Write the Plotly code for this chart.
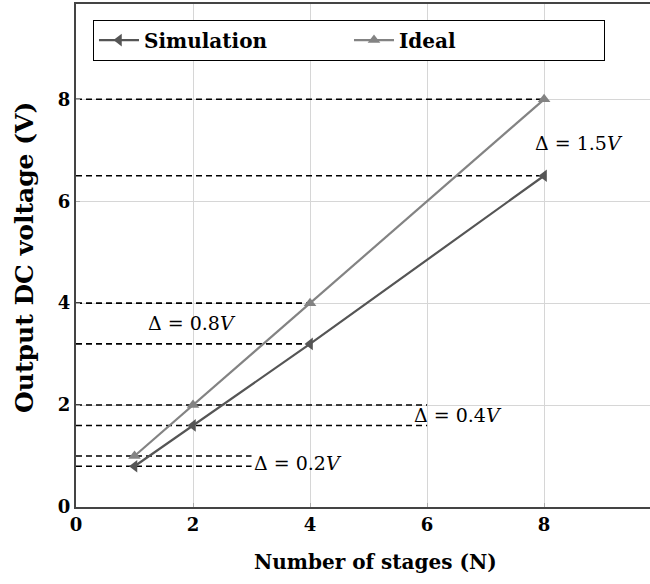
import plotly.graph_objects as go

stages = [1, 2, 4, 8]
simulation = [0.8, 1.6, 3.2, 6.5]
ideal = [1.0, 2.0, 4.0, 8.0]

# reference dashed levels: (y value, x extent)
ref_levels = [8.0, 6.5, 4.0, 3.2, 2.0, 1.6, 1.0, 0.8]
ref_extent = [8, 8, 4, 4, 6, 6, 3, 3]

delta_labels = ["Δ = 1.5<i>V</i>", "Δ = 0.8<i>V</i>", "Δ = 0.4<i>V</i>", "Δ = 0.2<i>V</i>"]
delta_x = [8.6, 1.98, 6.53, 3.8]
delta_y = [7.15, 3.61, 1.81, 0.86]

x_ticks = [0, 2, 4, 6, 8]
y_ticks = [0, 2, 4, 6, 8]

FONT = "DejaVu Serif"

fig = go.Figure()

for yv, xe in zip(ref_levels, ref_extent):
    fig.add_trace(go.Scatter(
        x=[0, xe], y=[yv, yv], mode="lines",
        line=dict(color="black", width=1.6, dash="6px,4px"),
        showlegend=False, hoverinfo="skip"))

fig.add_trace(go.Scatter(
    x=stages, y=simulation, mode="lines+markers", name="<b>Simulation</b>",
    line=dict(color="#555555", width=2.2),
    marker=dict(symbol="triangle-left", size=11, color="#555555")))
fig.add_trace(go.Scatter(
    x=stages, y=ideal, mode="lines+markers", name="<b>Ideal</b>",
    line=dict(color="#838383", width=2.2),
    marker=dict(symbol="triangle-up", size=11, color="#838383")))

for t, xx, yy in zip(delta_labels, delta_x, delta_y):
    fig.add_annotation(x=xx, y=yy, text=t, showarrow=False,
                       font=dict(family=FONT, size=19, color="black"))

# axis titles as paper annotations (original axis extends past the right edge)
fig.add_annotation(xref="paper", yref="paper", x=0.521, y=-0.109,
                   text="<b>Number of stages (N)</b>", showarrow=False,
                   xanchor="center", yanchor="middle",
                   font=dict(family=FONT, size=20, color="black"))
fig.add_annotation(xref="paper", yref="paper", x=-0.0906, y=0.497,
                   text="<b>Output DC voltage (V)</b>", showarrow=False, textangle=-90,
                   xanchor="center", yanchor="middle",
                   font=dict(family=FONT, size=25, color="black"))

fig.update_layout(
    width=650, height=584,
    margin=dict(l=76, r=0, t=4, b=77, autoexpand=False),
    paper_bgcolor="white", plot_bgcolor="white",
    font=dict(family=FONT, color="black"),
    showlegend=True,
    legend=dict(orientation="h", x=0.0296, y=0.969, xanchor="left", yanchor="top",
                bordercolor="black", borderwidth=1, bgcolor="white",
                font=dict(family=FONT, size=20, color="black"),
                entrywidth=200, entrywidthmode="pixels", itemwidth=40),
    xaxis=dict(range=[0, 9.81], tickvals=x_ticks, ticktext=[f"<b>{v}</b>" for v in x_ticks],
               showgrid=True, gridcolor="#d6d6d6", gridwidth=1, zeroline=False,
               showline=True, linecolor="#444444", linewidth=2, mirror=True,
               ticks="inside", ticklen=4, tickcolor="#aaaaaa", automargin=False,
               tickfont=dict(family=FONT, size=18, color="black")),
    yaxis=dict(range=[0, 9.87], tickvals=y_ticks, ticktext=[f"<b>{v}</b>" for v in y_ticks],
               showgrid=True, gridcolor="#d6d6d6", gridwidth=1, zeroline=False,
               showline=True, linecolor="#444444", linewidth=2, mirror=False,
               ticks="inside", ticklen=4, tickcolor="#aaaaaa", automargin=False,
               tickfont=dict(family=FONT, size=18, color="black")),
)

fig.write_html("out.html", config={"displayModeBar": False},
               post_script="document.body.style.margin='0';document.body.style.overflow='hidden';")
